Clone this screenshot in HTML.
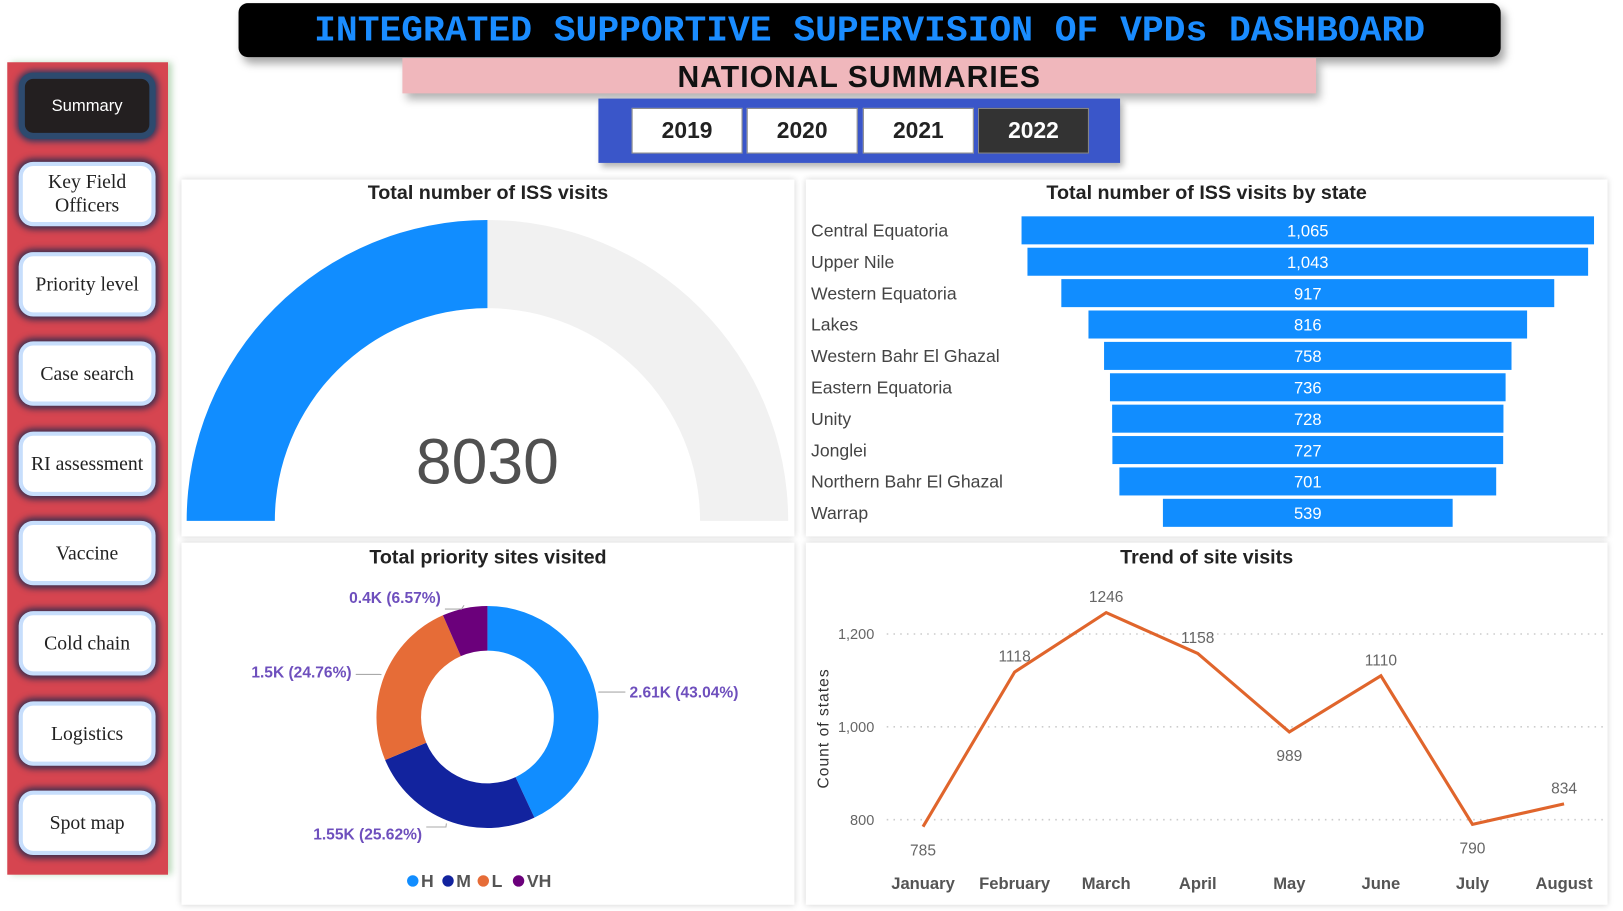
<!DOCTYPE html>
<html><head><meta charset="utf-8">
<style>
html,body{margin:0;padding:0;width:1623px;height:911px;overflow:hidden;background:#fff;}
#root{position:absolute;left:0;top:0;width:1565px;height:878px;transform-origin:0 0;transform:scale(1.0371,1.0376);font-family:"Liberation Sans",sans-serif;}
.abs{position:absolute;}
.panel{position:absolute;background:#fff;box-shadow:0 0 6px rgba(0,0,0,0.18);}
.ptitle{position:absolute;left:0;right:0;text-align:center;font-weight:bold;font-size:19px;color:#222;}
.nav{position:absolute;left:18px;width:132px;height:62px;border-radius:14px;background:#fff;border:4px solid #c7defc;box-sizing:border-box;box-shadow:0 0 6px 3px #3a3050;display:flex;align-items:center;justify-content:center;text-align:center;font-family:"Liberation Serif",serif;font-size:19px;color:#222;line-height:23px;}
.yr{position:absolute;top:104px;width:107px;height:44px;background:#fff;border:1px solid #888;box-sizing:border-box;display:flex;align-items:center;justify-content:center;font-weight:bold;font-size:22px;color:#222;}
</style></head>
<body>
<div id="root">
  <div class="abs" style="left:230px;top:3px;width:1217px;height:52px;background:#000;border-radius:9px;box-shadow:4px 6px 8px rgba(0,0,0,0.35);text-align:center;line-height:54px;font-family:'Liberation Mono',monospace;font-weight:bold;font-size:35px;color:#1a8cff;">INTEGRATED SUPPORTIVE SUPERVISION OF VPDs DASHBOARD</div>
  <div class="abs" style="left:388px;top:56px;width:881px;height:34px;background:#f0b7bc;box-shadow:4px 6px 8px rgba(0,0,0,0.3);text-align:center;line-height:38px;font-weight:bold;font-size:29px;color:#111;letter-spacing:1px;">NATIONAL SUMMARIES</div>
  <div class="abs" style="left:577px;top:95px;width:503px;height:62px;background:#3a56c9;box-shadow:3px 4px 6px rgba(0,0,0,0.3);"></div>
  <div class="yr" style="left:609px">2019</div>
  <div class="yr" style="left:720px">2020</div>
  <div class="yr" style="left:832px">2021</div>
  <div class="yr" style="left:943px;background:#333;color:#fff">2022</div>

  <div class="abs" style="left:7px;top:60px;width:155px;height:783px;background:#d64550;box-shadow:4px 0 6px rgba(120,180,120,0.5);"></div>
  <div class="nav" style="top:70px;height:64px;background:#231f20;border:6px solid #2d4a6e;color:#fff;font-family:'Liberation Sans',sans-serif;font-size:16px;box-shadow:0 0 6px 2px #2a3a60">Summary</div>
  <div class="nav" style="top:156px">Key Field<br>Officers</div>
  <div class="nav" style="top:243px">Priority level</div>
  <div class="nav" style="top:329px">Case search</div>
  <div class="nav" style="top:416px">RI assessment</div>
  <div class="nav" style="top:502px">Vaccine</div>
  <div class="nav" style="top:589px">Cold chain</div>
  <div class="nav" style="top:676px">Logistics</div>
  <div class="nav" style="top:762px">Spot map</div>

  <div class="panel" style="left:175px;top:173px;width:591px;height:344px;">
    <div class="ptitle" style="top:3px">Total number of ISS visits</div>
  </div>
  <div class="panel" style="left:777px;top:173px;width:773px;height:344px;">
    <div class="ptitle" style="top:3px">Total number of ISS visits by state</div>
  </div>
  <div class="panel" style="left:175px;top:523px;width:591px;height:349px;">
    <div class="ptitle" style="top:4px">Total priority sites visited</div>
  </div>
  <div class="panel" style="left:777px;top:523px;width:773px;height:349px;">
    <div class="ptitle" style="top:4px">Trend of site visits</div>
  </div>

  <svg id="svg" class="abs" style="left:0;top:0" width="1565" height="878"></svg>
</div>
<script>
const NS="http://www.w3.org/2000/svg";
const svg=document.getElementById('svg');
function mk(tag,attrs,parent){const e=document.createElementNS(NS,tag);for(const k in attrs)e.setAttribute(k,attrs[k]);(parent||svg).appendChild(e);return e;}

// ---- Gauge ----
const gaugeValue=8030;
const gaugeMax=16060;
{
  const cx=470,cy=502,R=290,r=205;
  function arc(a0,a1){ // angles in radians, 0 = left, PI = right along top
    const p=a=>[cx-Math.cos(a)*R,cy-Math.sin(a)*R], q=a=>[cx-Math.cos(a)*r,cy-Math.sin(a)*r];
    const [x0,y0]=p(a0),[x1,y1]=p(a1),[x2,y2]=q(a1),[x3,y3]=q(a0);
    return `M${x0},${y0} A${R},${R} 0 0 1 ${x1},${y1} L${x2},${y2} A${r},${r} 0 0 0 ${x3},${y3} Z`;
  }
  const bg=mk('path',{d:arc(0,Math.PI),fill:'#f1f1f1'});
  
  
  const fg=mk('path',{d:arc(0,Math.PI*gaugeValue/gaugeMax),fill:'#118dff'});
  
  
  const t=mk('text',{x:cx,y:466,'text-anchor':'middle','font-size':62,fill:'#505050','font-family':'Liberation Sans, sans-serif'});
  t.textContent=String(gaugeValue);
  
  
}

// ---- State bar (funnel) ----
const states=["Central Equatoria","Upper Nile","Western Equatoria","Lakes","Western Bahr El Ghazal","Eastern Equatoria","Unity","Jonglei","Northern Bahr El Ghazal","Warrap"];
const stateValues=[1065,1043,917,816,758,736,728,727,701,539];
const stateLabels=["1,065","1,043","917","816","758","736","728","727","701","539"];
{
  const cx=1261,pxPer=552/1065,y0=222,step=30.25,h=27;
  states.forEach((s,i)=>{
    const y=y0+i*step;
    const lab=mk('text',{x:782,y:y+6,'font-size':17,fill:'#444','font-family':'Liberation Sans, sans-serif'});
    lab.textContent=s;
    
    
    const w=stateValues[i]*pxPer;
    const b=mk('rect',{x:cx-w/2,y:y-h/2,width:w,height:h,fill:'#118dff'});
    
    
    const v=mk('text',{x:cx,y:y+6,'text-anchor':'middle','font-size':16,fill:'#fff','font-family':'Liberation Sans, sans-serif'});
    v.textContent=stateLabels[i];
    
    
  });
}

// ---- Donut ----
const priCats=["H","M","L","VH"];
const priPct=[43.04,25.62,24.76,6.57];
const priLabels=["2.61K (43.04%)","1.55K (25.62%)","1.5K (24.76%)","0.4K (6.57%)"];
const priColors=["#118dff","#12239e","#e66c37","#6b007b"];
{
  const cx=470,cy=691,R=107,r=64;
  const tot=priPct.reduce((a,b)=>a+b,0);
  let a=0;
  const pt=(ang,rad)=>[cx+Math.sin(ang)*rad,cy-Math.cos(ang)*rad];
  const labPos=[[607,672,'start',577,667],[407,809,'end',430,797],[339,653,'end',366,650],[425,581,'end',445,587]];
  priCats.forEach((c,i)=>{
    const a0=a/tot*2*Math.PI; a+=priPct[i]; const a1=a/tot*2*Math.PI;
    const large=(a1-a0)>Math.PI?1:0;
    const [x0,y0]=pt(a0,R),[x1,y1]=pt(a1,R),[x2,y2]=pt(a1,r),[x3,y3]=pt(a0,r);
    const p=mk('path',{d:`M${x0},${y0} A${R},${R} 0 ${large} 1 ${x1},${y1} L${x2},${y2} A${r},${r} 0 ${large} 0 ${x3},${y3} Z`,fill:priColors[i]});
    
    
    const lp=labPos[i];
    const t=mk('text',{x:lp[0],y:lp[1],'text-anchor':lp[2],'font-size':15,'font-weight':'bold',fill:'#6e4fbd','font-family':'Liberation Sans, sans-serif'});
    t.textContent=priLabels[i];
    
    
    const am=(a0+a1)/2,[ex,ey]=pt(am,R+3);
    const ln=mk('polyline',{points:`${ex},${ey} ${lp[3]},${lp[4]} ${lp[2]=='start'?lp[0]-4:lp[0]+4},${lp[4]}`,fill:'none',stroke:'#aaa','stroke-width':1});
    
    
  });
  let lx=393;
  priCats.forEach((c,i)=>{
    const d=mk('circle',{cx:lx+5,cy:849,r:5.5,fill:priColors[i]});
    
    
    const t=mk('text',{x:lx+13,y:855,'font-size':17,'font-weight':'bold',fill:'#555','font-family':'Liberation Sans, sans-serif'});
    t.textContent=c;
    
    
    lx+=13+c.length*12+9;
  });
}

// ---- Line chart ----
const months=["January","February","March","April","May","June","July","August"];
const visits=[785,1118,1246,1158,989,1110,790,834];
const yTicks=[800,1000,1200];
const yTickLabels=["800","1,000","1,200"];
{
  const xs=i=>890+i*88.3;
  const ys=v=>790-(v-800)*(179/400);
  yTicks.forEach((v,i)=>{
    const g=mk('line',{x1:855,x2:1548,y1:ys(v),y2:ys(v),stroke:'#ccc','stroke-dasharray':'1.5 5','stroke-width':1.5});
    
    
    const t=mk('text',{x:843,y:ys(v)+5,'text-anchor':'end','font-size':14,fill:'#666','font-family':'Liberation Sans, sans-serif'});
    t.textContent=yTickLabels[i];
    
    
  });
  const yt=mk('text',{x:0,y:0,transform:'translate(799,702) rotate(-90)','text-anchor':'middle','font-size':15,fill:'#333','font-family':'Liberation Sans, sans-serif','letter-spacing':'1'});
  yt.textContent="Count of states";
  
  
  const line=mk('polyline',{points:visits.map((v,i)=>xs(i)+','+ys(v)).join(' '),fill:'none',stroke:'#e0652c','stroke-width':3,'stroke-linejoin':'miter'});
  
  
  visits.forEach((v,i)=>{
    const below=(i>0&&i<7)?(v<visits[i-1]&&v<visits[i+1]):(i==0||(i==6));
    const t=mk('text',{x:xs(i),y:below?ys(v)+28:ys(v)-10,'text-anchor':'middle','font-size':15,fill:'#666','font-family':'Liberation Sans, sans-serif'});
    t.textContent=String(v);
    
    
    const m=mk('text',{x:xs(i),y:857,'text-anchor':'middle','font-size':16,'font-weight':'bold',fill:'#555','font-family':'Liberation Sans, sans-serif'});
    m.textContent=months[i];
    
    
  });
}
</script>
</body></html>
